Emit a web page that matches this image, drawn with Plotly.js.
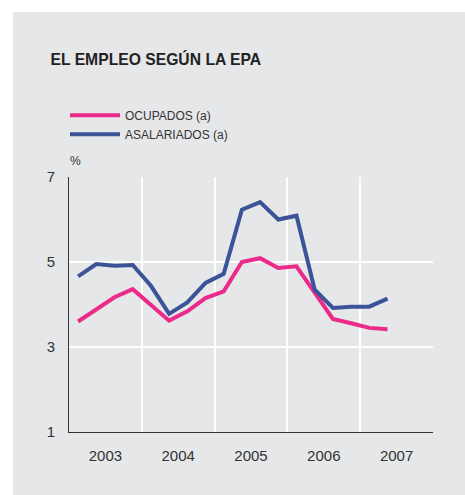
<!DOCTYPE html>
<html>
<head>
<meta charset="utf-8">
<script src="https://cdn.plot.ly/plotly-3.0.1.min.js"></script>
<style>
html,body{margin:0;padding:0;background:#ffffff;}
#chart{position:absolute;left:13px;top:12px;width:452px;height:483px;}
</style>
</head>
<body>
<div id="chart"></div>
<script>
// Quarterly data 2003 Q1 .. 2007 Q2
const years = [2003,2003,2003,2003,2004,2004,2004,2004,2005,2005,2005,2005,2006,2006,2006,2006,2007,2007];
const quarters = [1,2,3,4,1,2,3,4,1,2,3,4,1,2,3,4,1,2];
const ocupados = [3.60,3.88,4.17,4.36,4.00,3.62,3.84,4.15,4.31,5.00,5.09,4.86,4.90,4.27,3.66,3.56,3.45,3.42];
const asalariados = [4.66,4.95,4.91,4.93,4.44,3.78,4.05,4.51,4.72,6.23,6.41,6.00,6.09,4.35,3.92,3.95,3.95,4.14];
const yearLabels = ['2003','2004','2005','2006','2007'];
const yTicks = [1,3,5,7];

const xq = years.map((y,i)=> y + (quarters[i]-0.5)/4);
const yearCenters = yearLabels.map(s => Number(s) + 0.5);
const yearBounds = yearLabels.map(s => Number(s) + 1);

const font = "'Liberation Sans', Arial, Helvetica, sans-serif";

const traces = [
  {x: xq, y: ocupados, name: 'OCUPADOS (a)', type: 'scatter', mode: 'lines',
   line: {color: '#ec2a8a', width: 4}},
  {x: xq, y: asalariados, name: 'ASALARIADOS (a)', type: 'scatter', mode: 'lines',
   line: {color: '#3b5398', width: 4}}
];

const layout = {
  width: 452, height: 483,
  paper_bgcolor: '#e6e7e9', plot_bgcolor: '#e6e7e9',
  margin: {l: 56, r: 32, t: 165, b: 63},
  font: {family: font, color: '#333333'},
  title: {text: 'EL EMPLEO SEGÚN LA EPA', xref: 'container', yref: 'container',
          x: 0.083, xanchor: 'left', y: 0.902, yanchor: 'middle',
          font: {family: font, size: 15.7, color: '#222222', weight: 'bold'}},
  showlegend: true,
  legend: {x: -0.011, xanchor: 'left', y: 1.111, yanchor: 'bottom', bgcolor: 'rgba(0,0,0,0)',
           itemwidth: 50,
           font: {family: font, size: 12, color: '#333333'}, tracegroupgap: 0},
  xaxis: {range: [2003, 2008], tickvals: yearCenters, ticktext: yearLabels,
          showgrid: false, zeroline: false, showline: true, linecolor: '#333333', linewidth: 1,
          ticks: '', ticklabelstandoff: 10, tickfont: {size: 15, color: '#333333'},
          minor: {tickvals: yearBounds, showgrid: true, gridcolor: '#ffffff', gridwidth: 2, ticks: ''},
          fixedrange: true},
  yaxis: {range: [1, 7], tickvals: yTicks, ticktext: yTicks.map(String),
          showgrid: true, gridcolor: '#ffffff', gridwidth: 2, zeroline: false,
          showline: true, linecolor: '#333333', linewidth: 1,
          ticks: '', ticklabelstandoff: 10, tickfont: {size: 15, color: '#333333'},
          fixedrange: true},
  annotations: [
    {text: '%', xref: 'paper', yref: 'paper', x: 0.018, y: 1.064, xanchor: 'center', yanchor: 'middle',
     showarrow: false, font: {family: font, size: 12, color: '#333333'}}
  ]
};

Plotly.newPlot('chart', traces, layout, {displayModeBar: false, staticPlot: true});
</script>
</body>
</html>
